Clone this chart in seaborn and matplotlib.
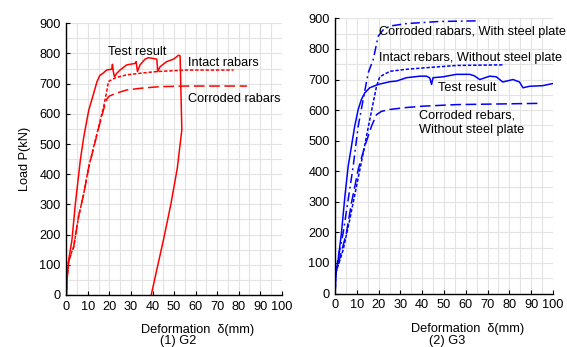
import numpy as np
import pandas as pd
import matplotlib
matplotlib.use("Agg")
import matplotlib.pyplot as plt
import seaborn as sns

# ---------------- data: G2 ----------------
g2_test_x = [0, 0.3, 1.1, 2.6, 4.2, 6.5, 8.1, 10.4, 12.7, 14.2, 15.6, 16.6, 18.7, 19.7, 21.1, 21.4, 21.8, 22.3,
             23.4, 24.9, 28.0, 31.9, 32.4, 33.0, 34.2, 36.5, 38.1, 42.0, 42.4, 43.5, 46.6, 49.7, 50.9, 52.0,
             52.8, 53.1, 53.6, 51.5, 48.5, 45.0, 42.5, 39.4]
g2_test_y = [0, 50, 116, 182, 303, 447, 524, 612, 668, 706, 728, 732, 745, 746, 748, 764, 740, 723,
             734, 745, 762, 767, 773, 740, 762, 781, 786, 781, 740, 756, 773, 781, 787, 794,
             792, 700, 547, 420, 300, 180, 100, 0]

g2_intact_x = [0, 0.5, 1.1, 3.4, 5.7, 8.1, 10.4, 12.7, 15.0, 17.3, 18.9, 19.5, 23.0, 28.0, 35.0, 42.0, 55.9, 77.6]
g2_intact_y = [0, 70, 116, 160, 259, 337, 425, 491, 557, 623, 680, 707, 720, 729, 735, 740, 745, 745]

g2_corr_x = [0, 0.5, 1.1, 3.4, 5.7, 8.1, 10.4, 12.7, 15.0, 17.3, 18.9, 20.0, 24.0, 28.0, 35.0, 43.5, 55.9, 83.8]
g2_corr_y = [0, 70, 112, 158, 262, 335, 422, 488, 553, 615, 650, 659, 670, 679, 685, 690, 692, 692]

# ---------------- data: G3 ----------------
g3_test_x = [0, 0.3, 1.4, 2.9, 4.5, 6.0, 7.5, 9.0, 10.6, 12.1, 13.6, 15.9, 19.8, 25.2, 28.2, 32.8, 38.9, 42.0,
             43.5, 44.3, 45.0, 49.6, 55.7, 61.8, 64.0, 66.4, 71.0, 74.0, 77.0, 81.7, 84.7, 86.3, 89.3, 95.4, 100]
g3_test_y = [0, 67, 110, 198, 318, 416, 481, 547, 602, 635, 656, 673, 684, 693, 695, 706, 711, 711,
             705, 684, 706, 709, 717, 717, 712, 700, 711, 709, 692, 700, 692, 673, 678, 680, 687]

g3_plate_x = [0, 0.6, 3.7, 6.0, 8.3, 10.6, 12.9, 15.2, 17.5, 19.8, 22.0, 25.2, 32.8, 48.0, 66.4]
g3_plate_y = [0, 88, 198, 307, 416, 547, 635, 722, 765, 842, 862, 875, 883, 890, 892]

g3_intact_x = [0, 0.3, 3.7, 6.7, 9.8, 12.9, 15.9, 19.0, 20.5, 25.2, 32.0, 40.5, 55.7, 77.0]
g3_intact_y = [0, 67, 143, 241, 350, 459, 568, 677, 709, 727, 733, 738, 746, 748]

g3_corr_x = [0, 0.3, 5.2, 7.5, 10.6, 13.6, 16.7, 19.0, 21.3, 25.0, 32.0, 40.5, 55.7, 93.0]
g3_corr_y = [0, 67, 198, 296, 405, 481, 547, 585, 596, 602, 608, 613, 618, 622]

x_ticks = [0, 10, 20, 30, 40, 50, 60, 70, 80, 90, 100]
y_ticks = [0, 100, 200, 300, 400, 500, 600, 700, 800, 900]

sns.set_theme(style="white")
plt.rcParams['font.family'] = ['Liberation Sans', 'DejaVu Sans']

fig = plt.figure(figsize=(5.67, 3.47), dpi=100)
ax1 = fig.add_axes([0.117, 0.150, 0.380, 0.783])
ax2 = fig.add_axes([0.591, 0.154, 0.384, 0.793])

RED = '#ff0000'
BLUE = '#0000ff'
SHORT = (0, (2.2, 1.2))
LONG = (0, (7, 3))
DASHDOT = (0, (6, 2.5, 1.2, 2.5))


def draw(ax, x, y, color, ls):
    df = pd.DataFrame({'x': x, 'y': y})
    sns.lineplot(data=df, x='x', y='y', sort=False, estimator=None, ax=ax,
                 color=color, linestyle=ls, linewidth=1.1)


draw(ax1, g2_test_x, g2_test_y, RED, '-')
draw(ax1, g2_intact_x, g2_intact_y, RED, SHORT)
draw(ax1, g2_corr_x, g2_corr_y, RED, LONG)

draw(ax2, g3_test_x, g3_test_y, BLUE, '-')
draw(ax2, g3_plate_x, g3_plate_y, BLUE, DASHDOT)
draw(ax2, g3_intact_x, g3_intact_y, BLUE, SHORT)
draw(ax2, g3_corr_x, g3_corr_y, BLUE, LONG)

FS = 9.2
for ax in (ax1, ax2):
    ax.set_xlim(0, 100)
    ax.set_ylim(0, 900)
    ax.set_xticks(x_ticks)
    ax.set_yticks(y_ticks)
    ax.set_xticks(np.arange(0, 101, 5), minor=True)
    ax.set_yticks(np.arange(0, 901, 50), minor=True)
    ax.grid(True, which='both', color='#e3e3e3', linewidth=0.8)
    ax.set_axisbelow(True)
    for s in ('top', 'right'):
        ax.spines[s].set_visible(False)
    for s in ('left', 'bottom'):
        ax.spines[s].set_color('black')
        ax.spines[s].set_linewidth(1.0)
    ax.tick_params(axis='both', which='major', direction='in', length=3, width=0.8,
                   labelsize=FS, colors='black', pad=4, left=True, bottom=True)
    ax.tick_params(axis='both', which='minor', length=0)
    ax.set_xlabel('')
    ax.set_ylabel('')
    ax.text(0.61, -0.128, 'Deformation  δ(mm)', transform=ax.transAxes, ha='center', va='center',
            fontsize=FS, color='black')

ax1.set_ylabel('Load P(kN)', fontsize=FS, color='black', labelpad=6)

# annotations
ax1.text(32.8, 805, 'Test result', fontsize=FS, ha='center', va='center', color='black')
ax1.text(56.5, 768, 'Intact rabars', fontsize=FS, ha='left', va='center', color='black')
ax1.text(56.5, 649, 'Corroded rabars', fontsize=FS, ha='left', va='center', color='black')

ax2.text(20.3, 854, 'Corroded rabars, With steel plate', fontsize=FS, ha='left', va='center',
         color='black', clip_on=False)
ax2.text(20.0, 769, 'Intact rebars, Without steel plate', fontsize=FS, ha='left', va='center',
         color='black', clip_on=False)
ax2.text(47.3, 671, 'Test result', fontsize=FS, ha='left', va='center', color='black')
ax2.text(38.6, 582, 'Corroded rebars,', fontsize=FS, ha='left', va='center', color='black')
ax2.text(38.6, 536, 'Without steel plate', fontsize=FS, ha='left', va='center', color='black')

fig.text(178 / 567, 0.0, '(1) G2', fontsize=FS, ha='center', va='bottom', color='black')
fig.text(447 / 567, 0.0, '(2) G3', fontsize=FS, ha='center', va='bottom', color='black')

fig.savefig('out.png', dpi=100)
